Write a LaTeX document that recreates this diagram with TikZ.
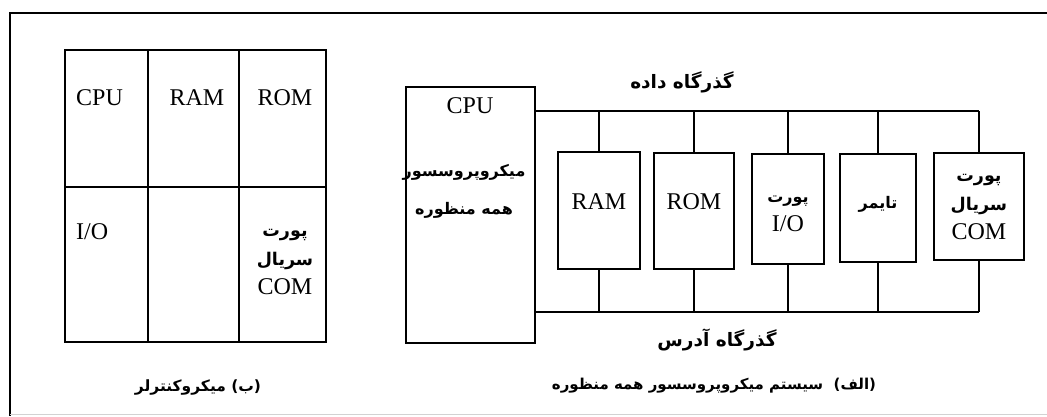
\documentclass[tikz,border=0pt]{standalone}
\usepackage{fontspec}
\setmainfont{Liberation Serif}
\newfontfamily\arabicfont[Script=Arabic]{DejaVu Sans}
\TeXXeTstate=1
% persian text, right to left; optional size in pt
\newcommand{\fatext}[2][17.5]{{\arabicfont\bfseries\fontsize{#1}{29}\selectfont\beginR #2\endR}}
\usetikzlibrary{positioning}

\begin{document}
\begin{tikzpicture}[
    x=1pt, y=-1pt,
    lat/.style={inner sep=0pt, font=\fontsize{24}{29}\selectfont},
    fa/.style={inner sep=0pt, font=\arabicfont\bfseries},
    unit/.style={draw, line width=1.9pt, anchor=north west, inner sep=0pt},
    bus/.style={line width=1.9pt},
]

% ---- outer frame ----
\useasboundingbox (0,0) rectangle (1047,416);
\draw[line width=1.6pt] (1047,13) -- (10,13) -- (10,416);
\draw[gray!35, line width=0.8pt] (10,414) -- (1047,414);

% ---- (b) microcontroller: one chip, six cells ----
\draw[line width=1.9pt] (65,50) rectangle (326,342);
\draw[line width=1.9pt] (148,50) -- (148,342) (239,50) -- (239,342) (65,187) -- (326,187);

\node[lat, anchor=west] (mcpu) at (76,98) {CPU};
\node[lat] (mram) at (197,98) {RAM};
\node[lat] (mrom) at (285,98) {ROM};
\node[lat, anchor=west] (mio) at (76,232) {I/O};
\node[lat, align=center] (mcom) at (285,262)
    {\fatext{پورت}\\\fatext{سریال}\\COM};

\node[fa] (capb) at (198,387) {\fatext[15.5]{(ب) میکروکنترلر}};

% ---- (a) general purpose microprocessor system ----
\node[unit, minimum width=129pt, minimum height=256pt] (mp) at (405,86) {};
\node[lat] (mpcpu) at (470,106) {CPU};
\node[lat, align=center] (mpname) at (464,191)
    {\fatext[16]{میکروپروسسور}\\[9pt]\fatext[16]{همه منظوره}};

% peripherals: name/x/y/width/height
\foreach \nm/\x/\y/\w/\h in {ram/557/151/82/117, rom/653/152/80/116,
                             io/751/153/72/110, tmr/839/153/76/108,
                             com/933/152/90/107}
    \node[unit, minimum width=\w pt, minimum height=\h pt] (\nm) at (\x,\y) {};

\node[lat] (ramtxt) at ([yshift=9pt]ram.center) {RAM};
\node[lat] (romtxt) at ([yshift=9pt]rom.center) {ROM};
\node[lat, align=center] (iotxt) at ([yshift=-5pt]io.center)
    {\fatext[16]{پورت}\\I/O};
\node[fa] (tmrtxt) at ([yshift=4pt]tmr.center) {\fatext[16]{تایمر}};
\node[lat, align=center] (comtxt) at ([yshift=-1pt]com.center)
    {\fatext{پورت}\\\fatext{سریال}\\COM};

% data bus and address bus
\coordinate (dbus) at (0,111);
\coordinate (abus) at (0,312);
\draw[bus] (mp.east |- dbus) -- (com.north |- dbus);
\draw[bus] (mp.east |- abus) -- (com.south |- abus);
\foreach \nm in {ram,rom,io,tmr,com} {
    \draw[bus] (\nm.north) -- (\nm.north |- dbus);
    \draw[bus] (\nm.south) -- (\nm.south |- abus);
}

\node[fa] (dlbl) at (682,82) {\fatext[18.5]{گذرگاه داده}};
\node[fa] (albl) at (717,340) {\fatext[18.5]{گذرگاه آدرس}};

\node[fa] (capa) at (714,386) {\fatext[15]{(الف)\ \ سیستم میکروپروسسور همه منظوره}};

\end{tikzpicture}
\end{document}
